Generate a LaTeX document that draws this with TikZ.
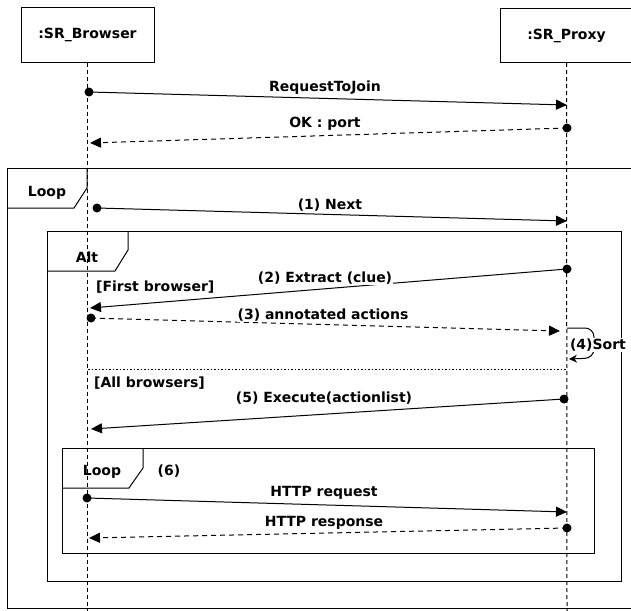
\documentclass[tikz,border=0pt]{standalone}
\usepackage{fontspec}
\setmainfont{DejaVu Sans}
\usetikzlibrary{arrows.meta}
\tikzset{
  lbl/.style={font=\bfseries\fontsize{14}{16}\selectfont, inner sep=1pt},
  lblw/.style={lbl, fill=white},
  head/.style={draw, line width=1pt, minimum width=133pt, minimum height=54pt, lbl, inner sep=0pt},
  life/.style={line width=1pt, dash pattern=on 4pt off 3pt},
  msg/.style={line width=1pt, -{Triangle[length=11pt,width=10pt]}},
  reply/.style={msg, dash pattern=on 5pt off 4pt},
  dotn/.style={circle, fill=black, minimum size=9pt, inner sep=0pt},
  frame/.style={line width=1pt},
  sep/.style={line width=1pt, dash pattern=on 1.5pt off 2pt},
  selfmsg/.style={line width=1pt, rounded corners=9pt, -{Stealth[length=8pt,width=8pt]}}
}
\begin{document}
\begin{tikzpicture}[x=1pt,y=-1pt]
\clip (0,0) rectangle (631,610);
% heads and lifelines
\node[head] (B) at (87.5,35) {:SR\_Browser};
\node[head] (P) at (566.5,35.5) {:SR\_Proxy};
\coordinate (Bend) at (87.5,612);
\coordinate (Pend) at (567,612);
\draw[life] (B.south) -- (Bend);
\draw[life] (P.south) -- (Pend);
% frames
\draw[frame] (7,168) rectangle (650,608);
\draw[frame] (7,208) -- (74,208) -- (87,188) -- (87,168);
\node[lbl] (loopA) at (47,193) {Loop};
\draw[frame] (47,231) rectangle (621,581);
\draw[frame] (47,271) -- (115,271) -- (128,250) -- (128,231);
\node[lbl] (alt) at (87,257) {Alt};
\draw[frame] (62,448) rectangle (594,553);
\draw[frame] (62,488) -- (129,488) -- (143,468) -- (143,448);
\node[lbl] (loopB) at (102,472) {Loop};
\node[lbl] (six) at (169,471) {(6)};
\coordinate (s1) at (88,369);
\coordinate (s2) at (567,369);
\draw[sep] (s1) -- (s2);
\node[lbl, anchor=west] (g1) at (95,287) {[First browser]};
\node[lbl, anchor=west] (g2) at (93,383) {[All browsers]};
% messages
\node[dotn] (d0) at (89,92) {};
\coordinate (t0) at (567,105);
\draw[msg] (d0.center) -- (t0);
\node[lblw] (l0) at (325,88) {RequestToJoin};

\node[dotn] (d1) at (567,128) {};
\coordinate (t1) at (90,143);
\draw[reply] (d1.center) -- (t1);
\node[lblw] (l1) at (325,124) {OK : port};

\node[dotn] (d2) at (97,208) {};
\coordinate (t2) at (567,221);
\draw[msg] (d2.center) -- (t2);
\node[lblw] (l2) at (330,205) {(1) Next};

\node[dotn] (d3) at (567,269) {};
\coordinate (t3) at (90,308);
\draw[msg] (d3.center) -- (t3);
\node[lblw] (l3) at (325,278) {(2) Extract (clue)};

\node[dotn] (d4) at (91,318) {};
\coordinate (t4) at (560,331);
\draw[reply] (d4.center) -- (t4);
\node[lblw] (l4) at (323,315) {(3) annotated actions};

\coordinate (s4a) at (567,328);
\coordinate (s4c) at (594,328);
\coordinate (s4d) at (594,358);
\coordinate (s4b) at (569,359);
\draw[selfmsg] (s4a) -- (s4c) -- (s4d) -- (s4b);
\node[lblw] (l5) at (598,345) {(4)Sort};

\node[dotn] (d5) at (564,399) {};
\coordinate (t5) at (91,429);
\draw[msg] (d5.center) -- (t5);
\node[lblw] (l6) at (324,398) {(5) Execute(actionlist)};

\node[dotn] (d6) at (87,498) {};
\coordinate (t6) at (567,512);
\draw[msg] (d6.center) -- (t6);
\node[lblw] (l7) at (324,493) {HTTP request};

\node[dotn] (d7) at (567,528) {};
\coordinate (t7) at (89,538);
\draw[reply] (d7.center) -- (t7);
\node[lblw] (l8) at (324,523) {HTTP response};
\end{tikzpicture}
\end{document}
